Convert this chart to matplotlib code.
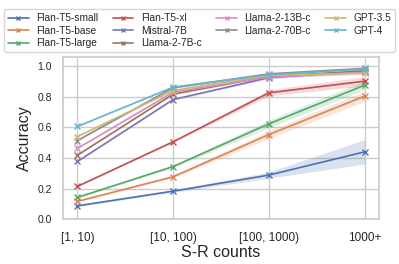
import matplotlib
matplotlib.use("Agg")
import matplotlib.pyplot as plt
import numpy as np
import seaborn as sns

sns.set_theme(style="whitegrid")
plt.rcParams['font.family'] = ['Liberation Sans', 'DejaVu Sans']

categories = ['[1, 10)', '[10, 100)', '[100, 1000)', '1000+']
models = ['Flan-T5-small', 'Flan-T5-base', 'Flan-T5-large', 'Flan-T5-xl',
          'Mistral-7B', 'Llama-2-7B-c', 'Llama-2-13B-c', 'Llama-2-70B-c',
          'GPT-3.5', 'GPT-4']

flan_small = [0.087, 0.183, 0.288, 0.440]
flan_base = [0.116, 0.277, 0.553, 0.804]
flan_large = [0.142, 0.344, 0.623, 0.876]
flan_xl = [0.214, 0.506, 0.826, 0.902]
mistral = [0.377, 0.782, 0.925, 0.970]
llama_7b = [0.418, 0.817, 0.935, 0.965]
llama_13b = [0.462, 0.830, 0.930, 0.960]
llama_70b = [0.514, 0.859, 0.950, 0.985]
gpt35 = [0.540, 0.841, 0.940, 0.955]
gpt4 = [0.606, 0.863, 0.945, 0.980]

# half-width of the shaded band
err_small = [0.006, 0.008, 0.020, 0.080]
err_base = [0.005, 0.008, 0.025, 0.035]
err_large = [0.005, 0.008, 0.025, 0.030]
err_xl = [0.004, 0.006, 0.020, 0.030]
err_other = [0.004, 0.005, 0.008, 0.012]

series = [flan_small, flan_base, flan_large, flan_xl, mistral, llama_7b,
          llama_13b, llama_70b, gpt35, gpt4]
errs = [err_small, err_base, err_large, err_xl] + [err_other] * 6

colors = sns.color_palette("deep", 10)

fig = plt.figure(figsize=(3.99, 2.64), dpi=100)
ax = fig.add_axes([0.158, 0.170, 0.792, 0.614])

x = np.arange(len(categories))
for name, vals, err, c in zip(models, series, errs, colors):
    vals = np.array(vals)
    err = np.array(err)
    ax.fill_between(x, vals - err, vals + err, color=c, alpha=0.2, linewidth=0)
    ax.plot(x, vals, color=c, marker='x', markersize=4, linewidth=1.2, label=name)

ax.set_xticks(x)
ax.set_xticklabels(categories, fontsize=8.5)
ax.set_xlim(-0.15, 3.15)
ax.set_ylim(0, 1.06)
ax.set_yticks([0.0, 0.2, 0.4, 0.6, 0.8, 1.0])
ax.tick_params(axis='y', labelsize=7.5, pad=2)
ax.tick_params(axis='x', pad=3)
ax.set_ylabel('Accuracy', fontsize=11.5, labelpad=4)
ax.set_xlabel('S-R counts', fontsize=11.5, labelpad=1)

fig.legend(loc='upper center', bbox_to_anchor=(0.5, 0.985), ncol=4,
           fontsize=7.3, frameon=True, columnspacing=1.45, handlelength=2.05,
           handletextpad=0.72, labelspacing=0.25, borderpad=0.4,
           markerscale=0.8)

fig.savefig('out.png', dpi=100)
